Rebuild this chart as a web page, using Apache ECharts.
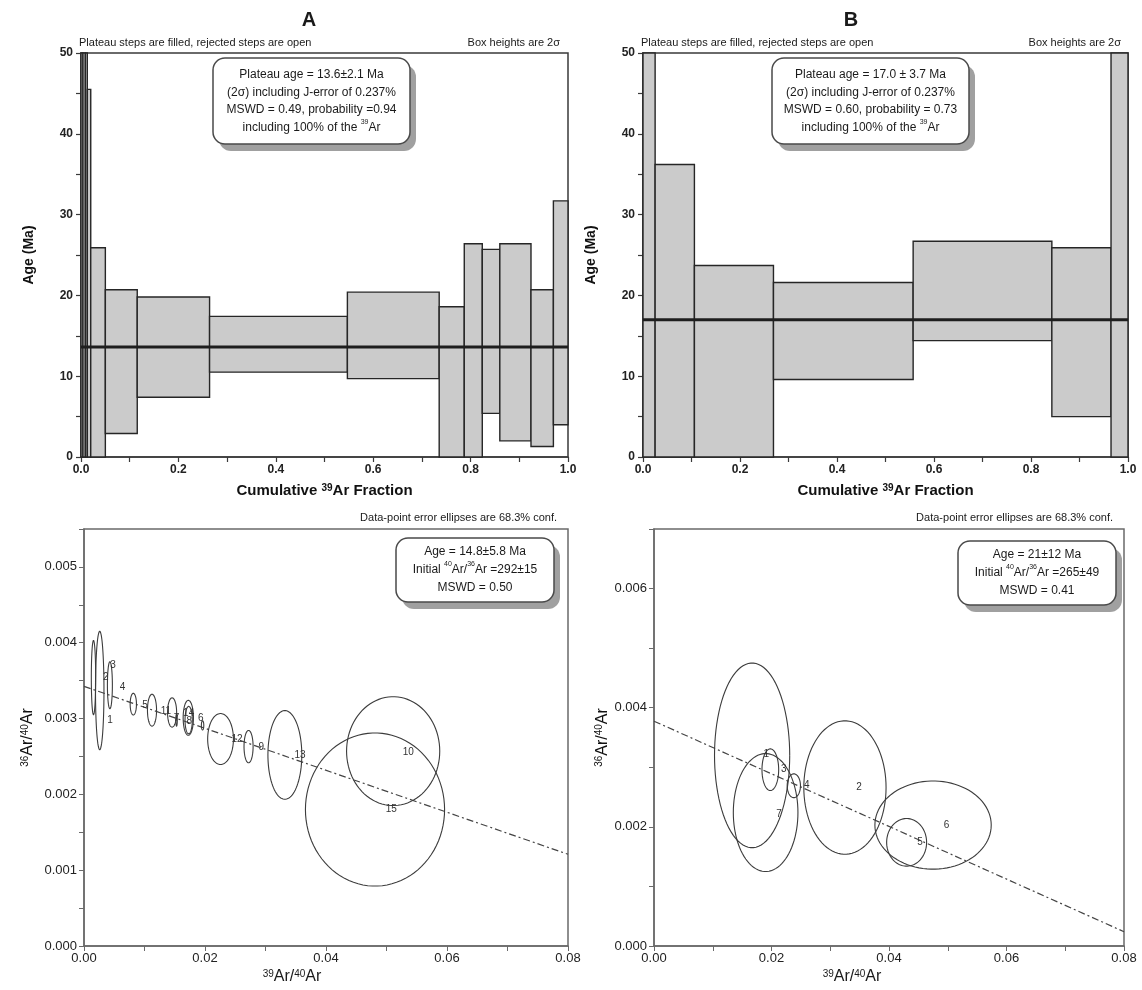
<!DOCTYPE html>
<html><head><meta charset="utf-8">
<script src="https://cdn.jsdelivr.net/npm/echarts@6/dist/echarts.min.js"></script>
<style>html,body{margin:0;padding:0;background:#fff}#c{width:1142px;height:990px}</style>
</head><body><div id="c"></div>
<script>
// ================= DATA =================
// Age spectra (cumulative 39Ar fraction edges, 2-sigma box bottoms/tops, Ma)
const stepEdgesA = [0, 0.004, 0.009, 0.013, 0.020, 0.050, 0.1155, 0.264, 0.547, 0.7355, 0.787, 0.824, 0.860, 0.924, 0.970, 1.0];
const stepLowA   = [-20, -20, -20, -5, -8, 2.9, 7.4, 10.5, 9.7, -2, -3, 5.4, 2.0, 1.3, 4.0];
const stepHighA  = [80, 80, 80, 45.5, 25.9, 20.7, 19.8, 17.4, 20.4, 18.6, 26.4, 25.7, 26.4, 20.7, 31.7];
const plateauAgeA = 13.6;

const stepEdgesB = [0, 0.025, 0.106, 0.269, 0.557, 0.843, 0.965, 1.0];
const stepLowB   = [-30, -4, -6, 9.6, 14.4, 5.0, -30];
const stepHighB  = [70, 36.2, 23.7, 21.6, 26.7, 25.9, 70];
const plateauAgeB = 17.0;

const ageTicks = [0, 10, 20, 30, 40, 50];
const fractionTicks = [0, 0.2, 0.4, 0.6, 0.8, 1.0];

// Inverse isochrons: ellipse centres (39Ar/40Ar, 36Ar/40Ar) and semi-axes
const ellLabelA = ['1','2','3','4','5','6','7','8','9','10','11','12','13','14','15'];
const ellXA  = [0.0026, 0.00157, 0.00428, 0.00815, 0.01124, 0.0196, 0.0153, 0.0173, 0.0272, 0.0511, 0.01456, 0.02257, 0.0332, 0.01724, 0.0481];
const ellYA  = [0.00337, 0.00354, 0.00344, 0.00319, 0.00311, 0.00291, 0.00298, 0.00298, 0.00263, 0.00257, 0.00308, 0.00273, 0.00252, 0.00301, 0.0018];
const ellRxA = [0.0007, 0.00036, 0.00041, 0.00052, 0.00075, 0.0002, 0.00012, 0.0006, 0.00075, 0.0077, 0.00075, 0.00213, 0.0028, 0.00085, 0.0115];
const ellRyA = [0.00078, 0.00049, 0.00031, 0.000143, 0.00021, 0.00006, 0.00008, 0.00018, 0.000213, 0.000718, 0.000193, 0.000336, 0.000585, 0.00023, 0.00101];
const lblXA  = [0.0043, 0.0036, 0.0048, 0.00635, 0.0101, 0.0193, 0.0153, 0.0174, 0.0293, 0.0536, 0.01354, 0.0253, 0.0357, 0.0173, 0.0508];
const lblYA  = [0.00298, 0.00354, 0.0037, 0.00341, 0.00318, 0.00301, 0.00301, 0.00296, 0.00262, 0.00255, 0.0031, 0.00273, 0.00251, 0.00307, 0.0018];
const isoLineA = [[0, 0.003425], [0.08, 0.00121]];

const ellLabelB = ['1','2','3','4','5','6','7'];
const ellXB  = [0.0167, 0.0325, 0.0198, 0.0238, 0.043, 0.0475, 0.019];
const ellYB  = [0.0032, 0.00266, 0.00296, 0.00269, 0.00174, 0.00203, 0.00224];
const ellRxB = [0.0064, 0.007, 0.00142, 0.00113, 0.0034, 0.0099, 0.0055];
const ellRyB = [0.00155, 0.00112, 0.00035, 0.0002, 0.0004, 0.00074, 0.00099];
const lblXB  = [0.0191, 0.0349, 0.0221, 0.026, 0.0453, 0.0498, 0.0213];
const lblYB  = [0.00322, 0.00267, 0.00296, 0.0027, 0.00175, 0.00203, 0.00222];
const isoLineB = [[0, 0.003774], [0.08, 0.00024]];

const ratioTicks = [0, 0.02, 0.04, 0.06, 0.08];
const yTicksA = [0, 0.001, 0.002, 0.003, 0.004, 0.005];
const yMaxA = 0.0055;
const yTicksB = [0, 0.002, 0.004, 0.006];
const yMaxB = 0.007;

// ================= RENDER =================
const FONT = 'Liberation Sans, Arial, Helvetica, sans-serif';
const chart = echarts.init(document.getElementById('c'), null, {renderer: 'canvas'});

function stepData(edges, lo, hi) {
  return lo.map((v, i) => [edges[i], edges[i + 1], v, hi[i]]);
}
function ellData(x, y, rx, ry) { return x.map((v, i) => [v, y[i], rx[i], ry[i]]); }
function lblData(x, y) { return x.map((v, i) => [v, y[i]]); }

function stepRender(params, api) {
  const p0 = api.coord([api.value(0), api.value(3)]);
  const p1 = api.coord([api.value(1), api.value(2)]);
  const cs = params.coordSys;
  const r = echarts.graphic.clipRectByRect(
    {x: p0[0], y: p0[1], width: p1[0] - p0[0], height: p1[1] - p0[1]},
    {x: cs.x, y: cs.y, width: cs.width, height: cs.height});
  if (!r) return;
  return {type: 'rect', shape: r, style: {fill: '#cbcbcb', stroke: '#262626', lineWidth: 1.4}};
}
function ellRender(params, api) {
  const cx = api.value(0), cy = api.value(1), rx = api.value(2), ry = api.value(3);
  const pts = [];
  for (let i = 0; i <= 90; i++) {
    const t = i / 90 * Math.PI * 2;
    pts.push(api.coord([cx + rx * Math.cos(t), cy + ry * Math.sin(t)]));
  }
  return {type: 'polyline', shape: {points: pts}, style: {stroke: '#3c3c3c', lineWidth: 1.1, fill: null}};
}
function makeLblRender(labels) {
  return function (params, api) {
    const p = api.coord([api.value(0), api.value(1)]);
    return {type: 'text', x: p[0], y: p[1], style: {text: labels[params.dataIndex], font: '10px ' + FONT, fill: '#333', align: 'center', verticalAlign: 'middle'}};
  };
}

const sup = {fontSize: 8, verticalAlign: 'top', lineHeight: 10};
function richBase(size, weight) {
  return {n: {fontSize: size, fontWeight: weight || 'normal', fontFamily: FONT, color: '#1a1a1a'},
          s: {fontSize: Math.round(size * 0.62), fontWeight: weight || 'normal', fontFamily: FONT, color: '#1a1a1a', verticalAlign: 'top', lineHeight: Math.round(size * 0.7)}};
}

const gridsPx = [
  {left: 81, top: 53, width: 487, height: 404},
  {left: 643, top: 53, width: 485, height: 404},
  {left: 84, top: 529, width: 484, height: 417},
  {left: 654, top: 529, width: 470, height: 417}
];
const grid = gridsPx.map((g, i) => Object.assign({show: true, borderColor: i < 2 ? '#3a3a3a' : '#6a6a6a', borderWidth: 1.5, backgroundColor: 'transparent'}, g));

function topX(gi) {
  return {type: 'value', gridIndex: gi, min: fractionTicks[0], max: fractionTicks[fractionTicks.length - 1],
    interval: fractionTicks[1] - fractionTicks[0],
    axisLine: {show: true, lineStyle: {color: '#3a3a3a', width: 1.5}},
    axisTick: {show: true, length: 5, lineStyle: {color: '#3a3a3a', width: 1.2}},
    minorTick: {show: true, splitNumber: 2, length: 5, lineStyle: {color: '#3a3a3a', width: 1.2}},
    splitLine: {show: false},
    axisLabel: {fontFamily: FONT, fontSize: 12, fontWeight: 'bold', color: '#222', margin: 7, formatter: v => v.toFixed(1)},
    name: 'Cumulative {s|39}Ar Fraction', nameLocation: 'middle', nameGap: 26,
    nameTextStyle: {fontFamily: FONT, fontSize: 15, fontWeight: 'bold', color: '#111', rich: {s: {fontSize: 10, fontWeight: 'bold', fontFamily: FONT, verticalAlign: 'top', lineHeight: 10}}}};
}
function topY(gi, gap) {
  return {type: 'value', gridIndex: gi, min: ageTicks[0], max: ageTicks[ageTicks.length - 1],
    interval: ageTicks[1] - ageTicks[0],
    axisLine: {show: true, lineStyle: {color: '#3a3a3a', width: 1.5}},
    axisTick: {show: true, length: 5, lineStyle: {color: '#3a3a3a', width: 1.2}},
    minorTick: {show: true, splitNumber: 2, length: 5, lineStyle: {color: '#3a3a3a', width: 1.2}},
    splitLine: {show: false},
    axisLabel: {fontFamily: FONT, fontSize: 12, fontWeight: 'bold', color: '#222', margin: 8},
    name: 'Age (Ma)', nameLocation: 'middle', nameGap: gap,
    nameTextStyle: {fontFamily: FONT, fontSize: 14, fontWeight: 'bold', color: '#111'}};
}
function botX(gi) {
  return {type: 'value', gridIndex: gi, min: ratioTicks[0], max: ratioTicks[ratioTicks.length - 1],
    interval: ratioTicks[1] - ratioTicks[0],
    axisLine: {show: true, lineStyle: {color: '#6a6a6a', width: 1.5}},
    axisTick: {show: true, length: 5, lineStyle: {color: '#6a6a6a'}},
    minorTick: {show: true, splitNumber: 2, length: 5, lineStyle: {color: '#6a6a6a'}},
    splitLine: {show: false},
    axisLabel: {fontFamily: FONT, fontSize: 13, color: '#222', margin: 6, formatter: v => v.toFixed(2)}};
}
function botY(gi, ticks, max, gap) {
  return {type: 'value', gridIndex: gi, min: ticks[0], max: max, interval: ticks[1] - ticks[0],
    axisLine: {show: true, lineStyle: {color: '#6a6a6a', width: 1.5}},
    axisTick: {show: true, length: 5, lineStyle: {color: '#6a6a6a'}},
    minorTick: {show: true, splitNumber: 2, length: 5, lineStyle: {color: '#6a6a6a'}},
    splitLine: {show: false},
    axisLabel: {fontFamily: FONT, fontSize: 13, color: '#222', margin: 7, showMaxLabel: false, formatter: v => v.toFixed(3)},
    name: '{s|36}Ar/{s|40}Ar', nameLocation: 'middle', nameGap: gap,
    nameTextStyle: {fontFamily: FONT, fontSize: 16, color: '#111', rich: {s: {fontSize: 10, fontFamily: FONT, verticalAlign: 'top', lineHeight: 10}}}};
}

const series = [
  {type: 'custom', xAxisIndex: 0, yAxisIndex: 0, renderItem: stepRender, data: stepData(stepEdgesA, stepLowA, stepHighA), encode: {x: [0, 1], y: [2, 3]}, z: 2},
  {type: 'line', xAxisIndex: 0, yAxisIndex: 0, data: [[fractionTicks[0], plateauAgeA], [fractionTicks[fractionTicks.length - 1], plateauAgeA]], symbol: 'none', lineStyle: {color: '#1e1e1e', width: 3}, z: 3, silent: true},
  {type: 'custom', xAxisIndex: 1, yAxisIndex: 1, renderItem: stepRender, data: stepData(stepEdgesB, stepLowB, stepHighB), encode: {x: [0, 1], y: [2, 3]}, z: 2},
  {type: 'line', xAxisIndex: 1, yAxisIndex: 1, data: [[fractionTicks[0], plateauAgeB], [fractionTicks[fractionTicks.length - 1], plateauAgeB]], symbol: 'none', lineStyle: {color: '#1e1e1e', width: 3}, z: 3, silent: true},
  {type: 'line', xAxisIndex: 2, yAxisIndex: 2, data: isoLineA, symbol: 'none', lineStyle: {color: '#444', width: 1.2, type: [7, 3, 2, 3]}, z: 2, silent: true},
  {type: 'custom', xAxisIndex: 2, yAxisIndex: 2, renderItem: ellRender, data: ellData(ellXA, ellYA, ellRxA, ellRyA), clip: true, z: 3},
  {type: 'custom', xAxisIndex: 2, yAxisIndex: 2, renderItem: makeLblRender(ellLabelA), data: lblData(lblXA, lblYA), z: 4},
  {type: 'line', xAxisIndex: 3, yAxisIndex: 3, data: isoLineB, symbol: 'none', lineStyle: {color: '#444', width: 1.2, type: [7, 3, 2, 3]}, z: 2, silent: true},
  {type: 'custom', xAxisIndex: 3, yAxisIndex: 3, renderItem: ellRender, data: ellData(ellXB, ellYB, ellRxB, ellRyB), clip: true, z: 3},
  {type: 'custom', xAxisIndex: 3, yAxisIndex: 3, renderItem: makeLblRender(ellLabelB), data: lblData(lblXB, lblYB), z: 4}
];

function infoBox(x, y, w, h, lines, size, lh) {
  return {type: 'group', x: x, y: y, z: 50, children: [
    {type: 'rect', shape: {x: 6, y: 7, width: w, height: h, r: 12}, style: {fill: '#a0a0a0'}},
    {type: 'rect', shape: {x: 0, y: 0, width: w, height: h, r: 12}, style: {fill: '#ffffff', stroke: '#4a4a4a', lineWidth: 1.5}},
    {type: 'text', x: w / 2, y: h / 2, style: {text: lines.join('\n'), align: 'center', verticalAlign: 'middle', lineHeight: lh, font: size + 'px ' + FONT, fill: '#1a1a1a', rich: richBase(size)}}
  ]};
}
function txt(x, y, text, size, opts) {
  return {type: 'text', x: x, y: y, z: 50, style: Object.assign({text: text, font: size + 'px ' + FONT, fill: '#1a1a1a', align: 'left', verticalAlign: 'middle', rich: richBase(size)}, opts || {})};
}

const graphic = [
  txt(309, 20, 'A', 20, {font: 'bold 20px ' + FONT, align: 'center'}),
  txt(851, 20, 'B', 20, {font: 'bold 20px ' + FONT, align: 'center'}),
  txt(79, 43, 'Plateau steps are filled, rejected steps are open', 11),
  txt(560, 43, 'Box heights are 2σ', 11, {align: 'right'}),
  txt(641, 43, 'Plateau steps are filled, rejected steps are open', 11),
  txt(1121, 43, 'Box heights are 2σ', 11, {align: 'right'}),
  infoBox(213, 58, 197, 86, ['{n|Plateau age = 13.6±2.1 Ma}', '{n|(2σ) including J-error of 0.237%}', '{n|MSWD = 0.49, probability =0.94}', '{n|including 100% of the }{s|39}{n|Ar}'], 12, 17.5),
  infoBox(772, 58, 197, 86, ['{n|Plateau age = 17.0 ± 3.7 Ma}', '{n|(2σ) including J-error of 0.237%}', '{n|MSWD = 0.60, probability = 0.73}', '{n|including 100% of the }{s|39}{n|Ar}'], 12, 17.5),
  txt(557, 518, 'Data-point error ellipses are 68.3% conf.', 11, {align: 'right'}),
  txt(1113, 518, 'Data-point error ellipses are 68.3% conf.', 11, {align: 'right'}),
  infoBox(396, 538, 158, 64, ['{n|Age = 14.8±5.8 Ma}', '{n|Initial }{s|40}{n|Ar/}{s|36}{n|Ar =292±15}', '{n|MSWD = 0.50}'], 12, 18),
  infoBox(958, 541, 158, 64, ['{n|Age = 21±12 Ma}', '{n|Initial }{s|40}{n|Ar/}{s|36}{n|Ar =265±49}', '{n|MSWD = 0.41}'], 12, 18),
  txt(292, 977, '{n|Ar/}', 16, {text: '{s|39}{n|Ar/}{s|40}{n|Ar}', align: 'center'}),
  txt(852, 977, '{n|Ar/}', 16, {text: '{s|39}{n|Ar/}{s|40}{n|Ar}', align: 'center'})
];

chart.setOption({
  animation: false,
  backgroundColor: '#ffffff',
  grid: grid,
  xAxis: [topX(0), topX(1), botX(2), botX(3)],
  yAxis: [topY(0, 45), topY(1, 45), botY(2, yTicksA, yMaxA, 48), botY(3, yTicksB, yMaxB, 42)],
  series: series,
  graphic: graphic
});
</script>
</body></html>
